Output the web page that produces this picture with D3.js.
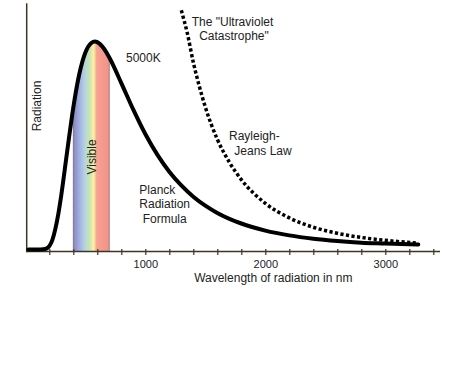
<!DOCTYPE html>
<html><head><meta charset="utf-8">
<script src="https://cdn.jsdelivr.net/npm/d3@7"></script>
<style>
html,body{margin:0;padding:0;background:#fff;}
svg{display:block;}
text{font-family:"Liberation Sans",Arial,Helvetica,sans-serif;fill:#222;}
</style>
</head><body>
<svg id="c" width="449" height="375"></svg>
<script>
// Planck radiation curve at 5000K (relative radiation, peak = 100)
const wavelengths = [25, 100, 150, 175, 200, 225, 250, 275, 300, 350, 400, 450, 500, 550, 580, 600, 650, 700, 800, 900, 1000, 1100, 1200, 1300, 1400, 1500, 1600, 1800, 2000, 2200, 2400, 2600, 2800, 3000, 3200, 3275];
const planck      = [0, 0, 0.1, 0.4, 1.6, 4.5, 9.8, 17, 26.2, 47.6, 68.3, 84.4, 94.6, 99.3, 100, 99.7, 97.0, 92.3, 80.0, 67.2, 55.5, 45.6, 37.4, 30.8, 25.4, 21.1, 17.6, 12.5, 9.1, 6.8, 5.2, 4.1, 3.3, 2.9, 2.5, 2.4];
// Rayleigh-Jeans law (dashed)
const rjWavelengths = [1300, 1350, 1400, 1450, 1500, 1600, 1700, 1800, 2000, 2200, 2400, 2600, 2800, 3000, 3275];
const rayleighJeans = [115, 104, 90, 78.5, 68.5, 53, 42, 33.6, 22.2, 15.2, 10.7, 7.8, 5.8, 4.4, 3.1];
// Visible band
const visibleRange = [400, 700];
const spectrumColors = ["#8586bf", "#9aa3d6", "#abc3e7", "#b9dbd6", "#c8e4b4", "#e3eca8", "#fbf1a4", "#fbd29c", "#f6a291", "#f3918a"];
const spectrumStops  = [0, 0.12, 0.25, 0.36, 0.45, 0.52, 0.56, 0.6, 0.65, 1];
// Axis ticks
const tickValues = [200, 400, 600, 800, 1000, 1200, 1400, 1600, 1800, 2000, 2200, 2400, 2600, 2800, 3000, 3200, 3400];
const tickLabels = [1000, 2000, 3000];

const svg = d3.select("#c");
const x = d3.scaleLinear().domain([0, 3000]).range([25.3, 385.3]);
const y = d3.scaleLinear().domain([0, 100]).range([249.5, 41.5]);
const axisColor = "#3f3525";

const pts = wavelengths.map((w, i) => [w, planck[i]]);
const rjPts = rjWavelengths.map((w, i) => [w, rayleighJeans[i]]);

// gradient
const defs = svg.append("defs");
const grad = defs.append("linearGradient").attr("id", "spec")
  .attr("gradientUnits", "userSpaceOnUse")
  .attr("x1", x(visibleRange[0])).attr("x2", x(visibleRange[1]))
  .attr("y1", 0).attr("y2", 0);
spectrumColors.forEach((c, i) => grad.append("stop").attr("offset", spectrumStops[i]).attr("stop-color", c));
defs.append("clipPath").attr("id", "visClip").append("rect")
  .attr("x", x(visibleRange[0])).attr("width", x(visibleRange[1]) - x(visibleRange[0]))
  .attr("y", 0).attr("height", 260);

const area = d3.area().x(d => x(d[0])).y0(y(0) + 2).y1(d => y(d[1])).curve(d3.curveMonotoneX);
svg.append("path").datum(pts).attr("d", area).attr("fill", "url(#spec)").attr("clip-path", "url(#visClip)");

// dotted boundaries
visibleRange.forEach(w => {
  const v = planck[wavelengths.indexOf(w)];
  svg.append("line").attr("x1", x(w)).attr("x2", x(w))
    .attr("y1", y(v)).attr("y2", y(0) + 2)
    .attr("stroke", "#4a4035").attr("stroke-width", 1).attr("stroke-dasharray", "1,1");
});

// y axis line
svg.append("line").attr("x1", 26.7).attr("x2", 26.7).attr("y1", 3.3).attr("y2", 252.2)
  .attr("stroke", axisColor).attr("stroke-width", 1.5);

// x axis
const xAxis = d3.axisBottom(x).tickValues(tickValues).tickSize(6)
  .tickFormat(d => tickLabels.includes(d) ? d : "");
const gx = svg.append("g").attr("transform", "translate(0,251.5)").call(xAxis);
gx.select(".domain").remove();
gx.selectAll(".tick line").attr("y1", -2.5).attr("y2", 3.5).attr("stroke", axisColor).attr("stroke-width", 1.2);
gx.selectAll(".tick text").attr("y", 16.5).attr("dy", 0).attr("font-size", 11)
  .attr("font-family", "'Liberation Sans',Arial,sans-serif").attr("fill", "#222");
gx.append("line").attr("x1", 26).attr("x2", 440).attr("y1", 0).attr("y2", 0)
  .attr("stroke", axisColor).attr("stroke-width", 1.5);

// curves
const line = d3.line().x(d => x(d[0])).y(d => y(d[1])).curve(d3.curveMonotoneX);
svg.append("path").datum(rjPts).attr("d", line).attr("fill", "none")
  .attr("stroke", "#000").attr("stroke-width", 3.5).attr("stroke-dasharray", "3.2,2.4");
svg.append("path").datum(pts).attr("d", line).attr("fill", "none")
  .attr("stroke", "#000").attr("stroke-width", 4).attr("stroke-linejoin", "round").attr("stroke-linecap", "round");

// texts
function txt(t, px, py, anchor, rot) {
  const e = svg.append("text").text(t).attr("font-size", 12).attr("text-anchor", anchor || "start");
  if (rot) e.attr("transform", `translate(${px},${py}) rotate(-90)`);
  else e.attr("x", px).attr("y", py);
  return e;
}
txt("Radiation", 40.5, 106, "middle", true);
txt("Visible", 95.5, 157, "middle", true);
txt("5000K", 126, 61.7);
txt("The \"Ultraviolet", 232.5, 25.7, "middle");
txt("Catastrophe\"", 234, 40, "middle");
txt("Rayleigh-", 229, 139.5);
txt("Jeans Law", 234.3, 155);
txt("Planck", 139.3, 194.3);
txt("Radiation", 139.3, 208.3);
txt("Formula", 142.7, 222.5);
txt("Wavelength of radiation in nm", 273.3, 282, "middle");
</script>
</body></html>
